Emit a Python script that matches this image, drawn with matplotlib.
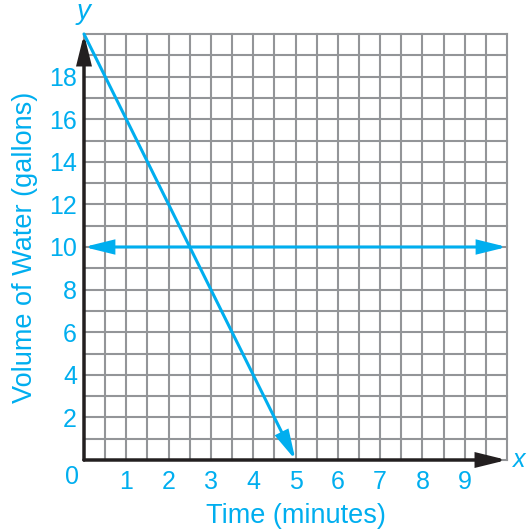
import numpy as np
import matplotlib
matplotlib.use("Agg")
import matplotlib.pyplot as plt

# data
drain_t = [0, 5]        # minutes
drain_v = [20, 0]       # gallons
level_t = [0, 10]
level_v = [10, 10]
x_ticks = [1, 2, 3, 4, 5, 6, 7, 8, 9]
y_ticks = [2, 4, 6, 8, 10, 12, 14, 16, 18]

CYAN = "#00AEEF"
GRID = "#939598"
BLACK = "#231F20"

plt.rcParams["font.family"] = ["Liberation Sans", "DejaVu Sans"]

fig = plt.figure(figsize=(5.28, 5.32), dpi=100)
ax = fig.add_axes([84 / 528, 72 / 532, 423 / 528, 426 / 532])
ax.set_xlim(0, 10)
ax.set_ylim(0, 20)

ax.xaxis.remove_overlapping_locs = False
ax.yaxis.remove_overlapping_locs = False
ax.set_xticks(x_ticks)
ax.set_yticks(y_ticks)
ax.set_xticks(np.arange(0, 10.01, 0.5), minor=True)
ax.set_yticks(np.arange(0, 20.01, 1), minor=True)
ax.tick_params(which="both", length=0)
ax.tick_params(axis="x", pad=7, labelsize=18, labelcolor=CYAN)
ax.tick_params(axis="y", pad=5, labelsize=18, labelcolor=CYAN)
ax.grid(which="minor", color=GRID, linewidth=1.5)
ax.grid(which="major", visible=False)
for t in ax.xaxis.get_minor_ticks() + ax.yaxis.get_minor_ticks():
    t.gridline.set_clip_on(False)
for s in ax.spines.values():
    s.set_visible(False)
ax.set_axisbelow(True)

HEAD = "head_width=0.32,head_length=1.3"


def arrow(x0, y0, x1, y1, color, lw, style="-|>"):
    ax.annotate("", xy=(x1, y1), xytext=(x0, y0),
                arrowprops=dict(arrowstyle=f"{style},{HEAD}", color=color, lw=lw,
                                mutation_scale=13, shrinkA=0, shrinkB=0,
                                joinstyle="miter"),
                annotation_clip=False)


# axes with arrows
arrow(0, 0, 0, 20, BLACK, 2.5)
arrow(0, 0, 10, 0, BLACK, 2.5)

# lines
arrow(drain_t[0], drain_v[0], drain_t[1], drain_v[1], CYAN, 2.2)
arrow(level_t[0], level_v[0], level_t[1], level_v[1], CYAN, 2.2, style="<|-|>")

ax.text(-0.28, -0.25, "0", color=CYAN, fontsize=18, ha="center", va="top")
ax.text(0, 20.4, "y", color=CYAN, fontsize=20, style="italic",
        ha="center", va="bottom")
ax.text(10.15, 0, "x", color=CYAN, fontsize=18, style="italic",
        ha="left", va="center")

ax.set_xlabel("Time (minutes)", color=CYAN, fontsize=19.5, labelpad=7)
ax.set_ylabel("Volume of Water (gallons)", color=CYAN, fontsize=19.5, labelpad=8)

fig.savefig("out.png", dpi=100)
